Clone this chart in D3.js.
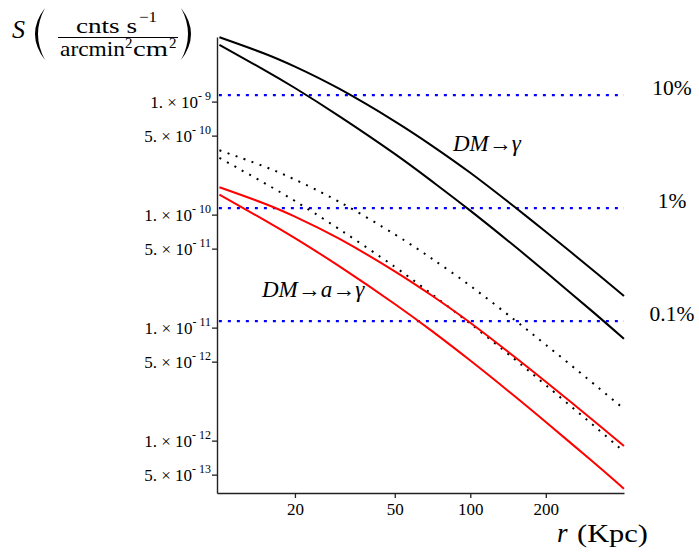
<!DOCTYPE html>
<html>
<head>
<meta charset="utf-8">
<script src="https://cdn.jsdelivr.net/npm/d3@7"></script>
<style>
  html, body { margin: 0; padding: 0; background: #fff; }
  svg { display: block; }
  text { font-family: "Liberation Serif", "DejaVu Serif", serif; fill: #000; }
</style>
</head>
<body>
<svg id="chart" width="699" height="556"></svg>
<script>
// ---- data ----
const radii = [10, 15, 20, 30, 50, 70, 100, 150, 200, 300, 410];
const dmGammaUpper = [3.71e-9, 2.68e-9, 2.04e-9, 1.30e-9, 6.69e-10, 4.105e-10, 2.344e-10, 1.172e-10, 7.046e-11, 3.39e-11, 1.905e-11];
const dmGammaLower = [3.18e-9, 1.92e-9, 1.32e-9, 7.45e-10, 3.45e-10, 1.99e-10, 1.085e-10, 5.27e-11, 3.10e-11, 1.45e-11, 7.96e-12];
const dottedUpper  = [3.71e-10, 2.68e-10, 2.04e-10, 1.30e-10, 6.69e-11, 4.105e-11, 2.344e-11, 1.172e-11, 7.05e-12, 3.39e-12, 1.905e-12];
const dottedLower  = [3.18e-10, 1.92e-10, 1.32e-10, 7.45e-11, 3.45e-11, 1.99e-11, 1.085e-11, 5.27e-12, 3.10e-12, 1.45e-12, 7.96e-13];
const dmAxionUpper = [1.747e-10, 1.262e-10, 9.61e-11, 6.12e-11, 3.15e-11, 1.933e-11, 1.104e-11, 5.52e-12, 3.32e-12, 1.597e-12, 8.97e-13];
const dmAxionLower = [1.50e-10, 9.04e-11, 6.2e-11, 3.5e-11, 1.62e-11, 9.4e-12, 5.11e-12, 2.48e-12, 1.46e-12, 6.83e-13, 3.75e-13];
const thresholdLevels = [1.14e-9, 1.14e-10, 1.14e-11];
const thresholdLabels = ["10%", "1%", "0.1%"];
const xTickValues = [20, 50, 100, 200];
const yTickValues = [1e-9, 5e-10, 1e-10, 5e-11, 1e-11, 5e-12, 1e-12, 5e-13];
const yTickMantissa = ["1.", "5.", "1.", "5.", "1.", "5.", "1.", "5."];
const yTickExponent = ["9", "10", "10", "11", "11", "12", "12", "13"];

const SERIF = "'Liberation Serif', 'DejaVu Serif', serif";

// ---- layout ----
const svg = d3.select("#chart");
const x = d3.scaleLog().domain([9.78, 410]).range([217, 624]);
const y = d3.scaleLog().domain([3.44e-13, 3.73e-9]).range([493, 37]);

function txt(sel) { return sel.style("font-family", SERIF); }

// threshold lines
svg.append("g").selectAll("line").data(thresholdLevels).join("line")
  .attr("x1", x(9.95)).attr("x2", x(410))
  .attr("y1", d => y(d)).attr("y2", d => y(d))
  .attr("stroke", "#0000ff").attr("stroke-width", 2.3)
  .attr("stroke-dasharray", "3,6");

txt(svg.append("g").selectAll("text").data(thresholdLabels).join("text"))
  .attr("x", 672).attr("y", (d, i) => y(thresholdLevels[i]))
  .attr("text-anchor", "middle").attr("font-size", 21.5).text(d => d);

// curves
const line = d3.line().x(d => x(d[0])).y(d => y(d[1])).curve(d3.curveNatural);
const series = [
  { v: dmGammaUpper, color: "#000", dash: null },
  { v: dmGammaLower, color: "#000", dash: null },
  { v: dottedUpper, color: "#000", dash: "2,6.5" },
  { v: dottedLower, color: "#000", dash: "2,6.5" },
  { v: dmAxionUpper, color: "#ff0000", dash: null },
  { v: dmAxionLower, color: "#ff0000", dash: null }
];
svg.append("g").selectAll("path").data(series).join("path")
  .attr("d", s => line(radii.map((r, i) => [r, s.v[i]])))
  .attr("fill", "none").attr("stroke", s => s.color)
  .attr("stroke-width", 2)
  .attr("stroke-dasharray", s => s.dash);

// axes
const xAxis = svg.append("g").attr("transform", "translate(0,493)")
  .call(d3.axisBottom(x).tickValues(xTickValues).tickSize(5).tickSizeOuter(0).tickFormat(""));
const yAxis = svg.append("g").attr("transform", "translate(217,0)")
  .call(d3.axisLeft(y).tickValues(yTickValues).tickSize(5).tickSizeOuter(0).tickFormat(""));
[xAxis, yAxis].forEach(a => {
  a.attr("font-family", null);
  a.select(".domain").attr("stroke", "#222").attr("stroke-width", 1.4);
  a.selectAll(".tick line").attr("stroke", "#222").attr("stroke-width", 1.3);
});

txt(xAxis.selectAll(".tick").append("text"))
  .attr("y", 22).attr("text-anchor", "middle").attr("font-size", 17)
  .text(d => d);

yAxis.selectAll(".tick").each(function(d, i) {
  const t = txt(d3.select(this).append("text"))
    .attr("x", -6).attr("y", 6.3).attr("text-anchor", "end").attr("font-size", 17);
  t.append("tspan").text(yTickMantissa[i] + " \u00d7 10");
  t.append("tspan").attr("dy", -8).attr("font-size", 12).text("- " + yTickExponent[i]);
});

// curve labels
const lab1 = txt(svg.append("text")).attr("x", 453).attr("y", 151).attr("font-size", 23);
lab1.append("tspan").attr("font-style", "italic").text("DM");
lab1.append("tspan").text("\u2192");
lab1.append("tspan").attr("font-style", "italic").text("\u03b3");

const lab2 = txt(svg.append("text")).attr("x", 262).attr("y", 297).attr("font-size", 23);
lab2.append("tspan").attr("font-style", "italic").text("DM");
lab2.append("tspan").text("\u2192");
lab2.append("tspan").attr("font-style", "italic").text("a");
lab2.append("tspan").text("\u2192");
lab2.append("tspan").attr("font-style", "italic").text("\u03b3");

// x-axis title
txt(svg.append("text")).attr("x", 557).attr("y", 542).attr("font-size", 27)
  .attr("font-style", "italic").text("r");
txt(svg.append("text")).attr("x", 577).attr("y", 542).attr("font-size", 26)
  .attr("textLength", 71).attr("lengthAdjust", "spacingAndGlyphs").text("(Kpc)");

// y-axis title
txt(svg.append("text")).attr("x", 12).attr("y", 38).attr("font-size", 26)
  .attr("font-style", "italic").text("S");
svg.append("path").attr("d", "M45,8 Q25,34 45,60 Q31,34 45,8 Z").attr("fill", "#000");
svg.append("path").attr("d", "M181,8 Q201,34 181,60 Q195,34 181,8 Z").attr("fill", "#000");
txt(svg.append("text")).attr("x", 76).attr("y", 32.5).attr("font-size", 21)
  .attr("textLength", 61).attr("lengthAdjust", "spacingAndGlyphs").text("cnts s");
txt(svg.append("text")).attr("x", 139).attr("y", 22).attr("font-size", 15)
  .attr("textLength", 18).attr("lengthAdjust", "spacingAndGlyphs").text("\u22121");
svg.append("line").attr("x1", 58).attr("x2", 178).attr("y1", 37.5).attr("y2", 37.5)
  .attr("stroke", "#000").attr("stroke-width", 1);
txt(svg.append("text")).attr("x", 60).attr("y", 55.5).attr("font-size", 21)
  .attr("textLength", 65).attr("lengthAdjust", "spacingAndGlyphs").text("arcmin");
txt(svg.append("text")).attr("x", 125).attr("y", 48).attr("font-size", 15).text("2");
txt(svg.append("text")).attr("x", 133).attr("y", 55.5).attr("font-size", 21)
  .attr("textLength", 35).attr("lengthAdjust", "spacingAndGlyphs").text("cm");
txt(svg.append("text")).attr("x", 169).attr("y", 48).attr("font-size", 15).text("2");
</script>
</body>
</html>
